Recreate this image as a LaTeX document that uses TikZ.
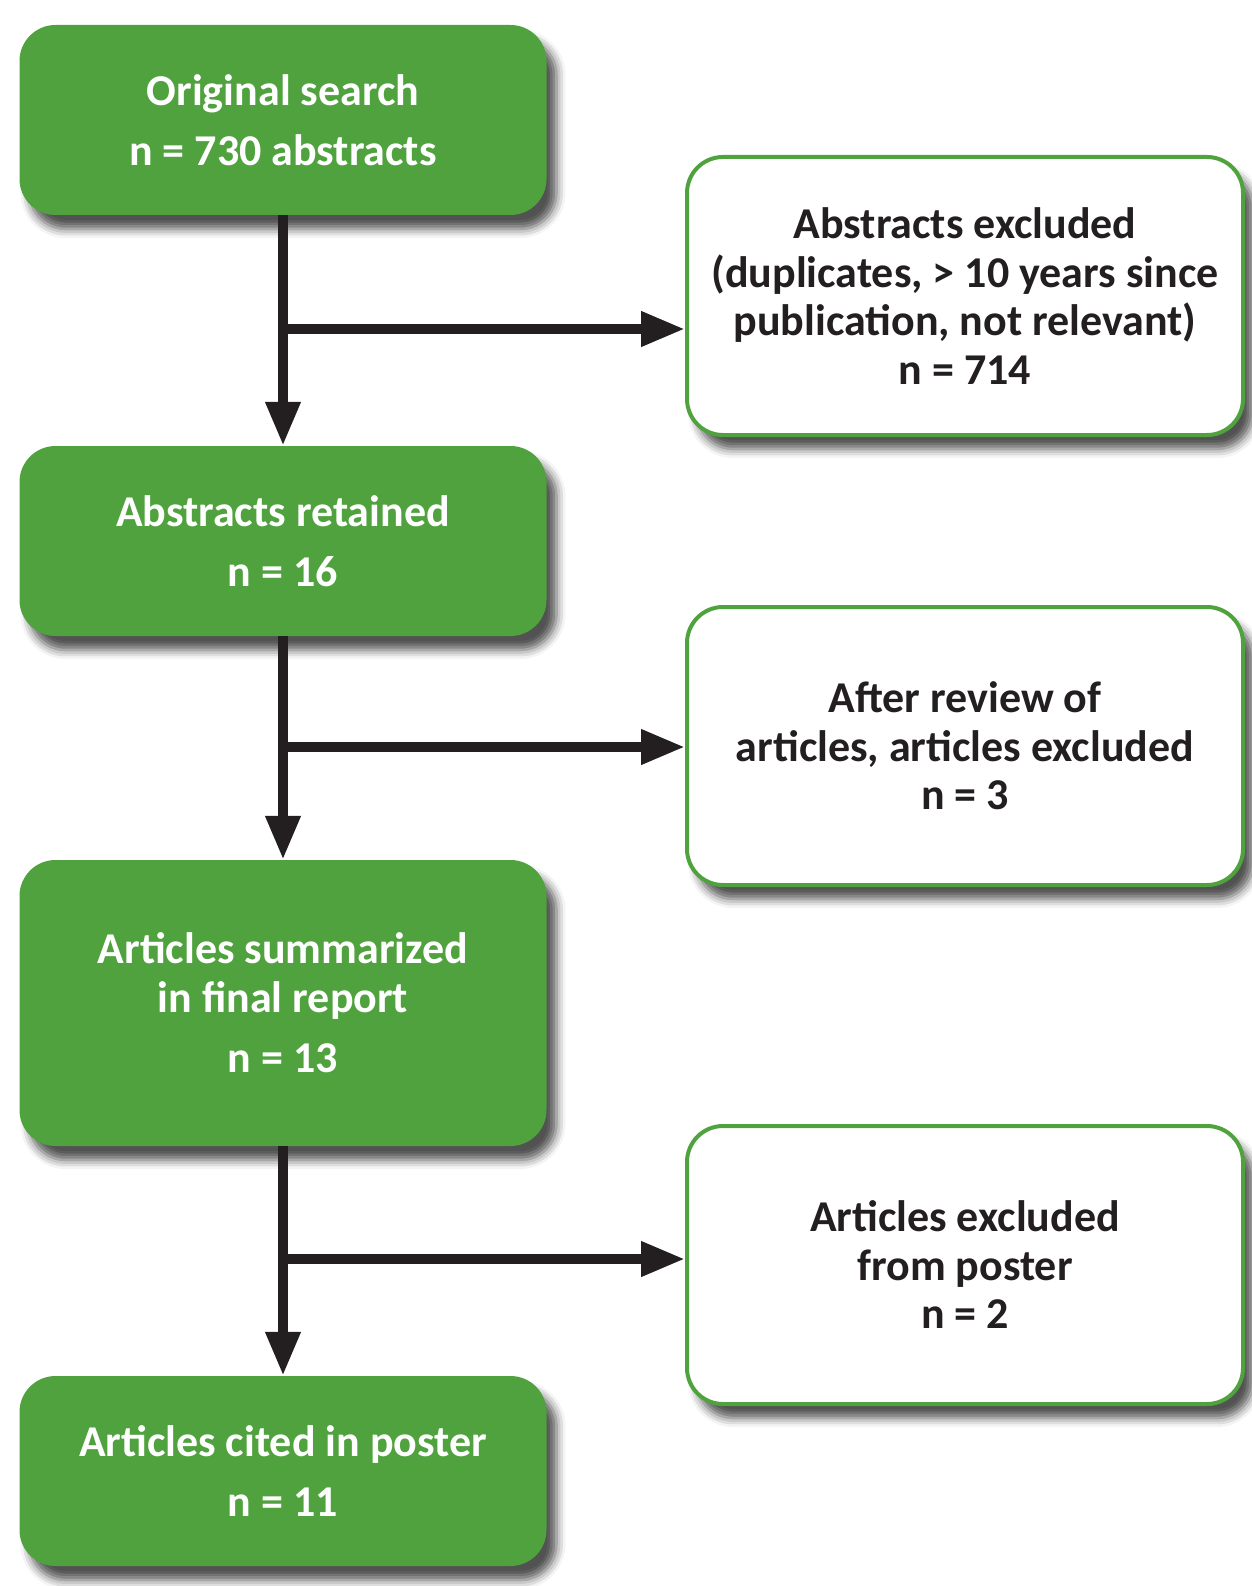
\documentclass[tikz,border=0pt]{standalone}
\usepackage{fontspec}
\setmainfont{Carlito}
\usetikzlibrary{arrows.meta, shadows.blur}
\definecolor{boxgreen}{RGB}{80,162,62}
\definecolor{inkdark}{RGB}{35,31,32}

\begin{document}
\begin{tikzpicture}[x=1pt, y=-1pt,
    boxfont/.style={font=\fontsize{44}{48.5}\selectfont\bfseries},
    boxshadow/.style={blur shadow={shadow xshift=10pt, shadow yshift=-14pt,
        shadow blur radius=9pt, shadow opacity=68}},
    greenbox/.style={boxfont, boxshadow, fill=boxgreen, text=white,
        rounded corners=36pt, minimum width=527pt, align=center},
    whitebox/.style={boxfont, boxshadow, draw=boxgreen, line width=4pt,
        fill=white, text=inkdark, rounded corners=36pt,
        minimum width=556pt, minimum height=278pt, align=center},
    flow/.style={inkdark, line width=10pt,
        -{Triangle[length=44pt, width=33pt]}}]
    \useasboundingbox (0,0) rectangle (1251,1586);

    % left column
    \node[greenbox, minimum height=190pt] (search) at (283,120)
        {Original search\\[12pt] n = 730 abstracts};
    \node[greenbox, minimum height=190pt] (retained) at (283,541)
        {Abstracts retained\\[12pt] n = 16};
    \node[greenbox, minimum height=286pt] (summarized) at (283,1003)
        {Articles summarized\\ in final report\\[12pt] n = 13};
    \node[greenbox, minimum height=190pt] (cited) at (283,1471)
        {Articles cited in poster\\[12pt] n = 11};

    % right column
    \node[whitebox] (excl1) at (965,296)
        {Abstracts excluded\\ (duplicates, > 10 years since\\
         publication, not relevant)\\ n = 714};
    \node[whitebox] (excl2) at (965,746)
        {After review of\\ articles, articles excluded\\ n = 3};
    \node[whitebox] (excl3) at (965,1265)
        {Articles excluded\\ from poster\\ n = 2};

    % connectors
    \draw[flow] (search.south) -- (retained.north);
    \draw[flow] (retained.south) -- (summarized.north);
    \draw[flow] (summarized.south) -- (cited.north);

    \coordinate (split1) at (283,329);
    \coordinate (split2) at (283,747);
    \coordinate (split3) at (283,1259);
    \draw[flow] (split1) -- (split1 -| excl1.west);
    \draw[flow] (split2) -- (split2 -| excl2.west);
    \draw[flow] (split3) -- (split3 -| excl3.west);
\end{tikzpicture}
\end{document}
